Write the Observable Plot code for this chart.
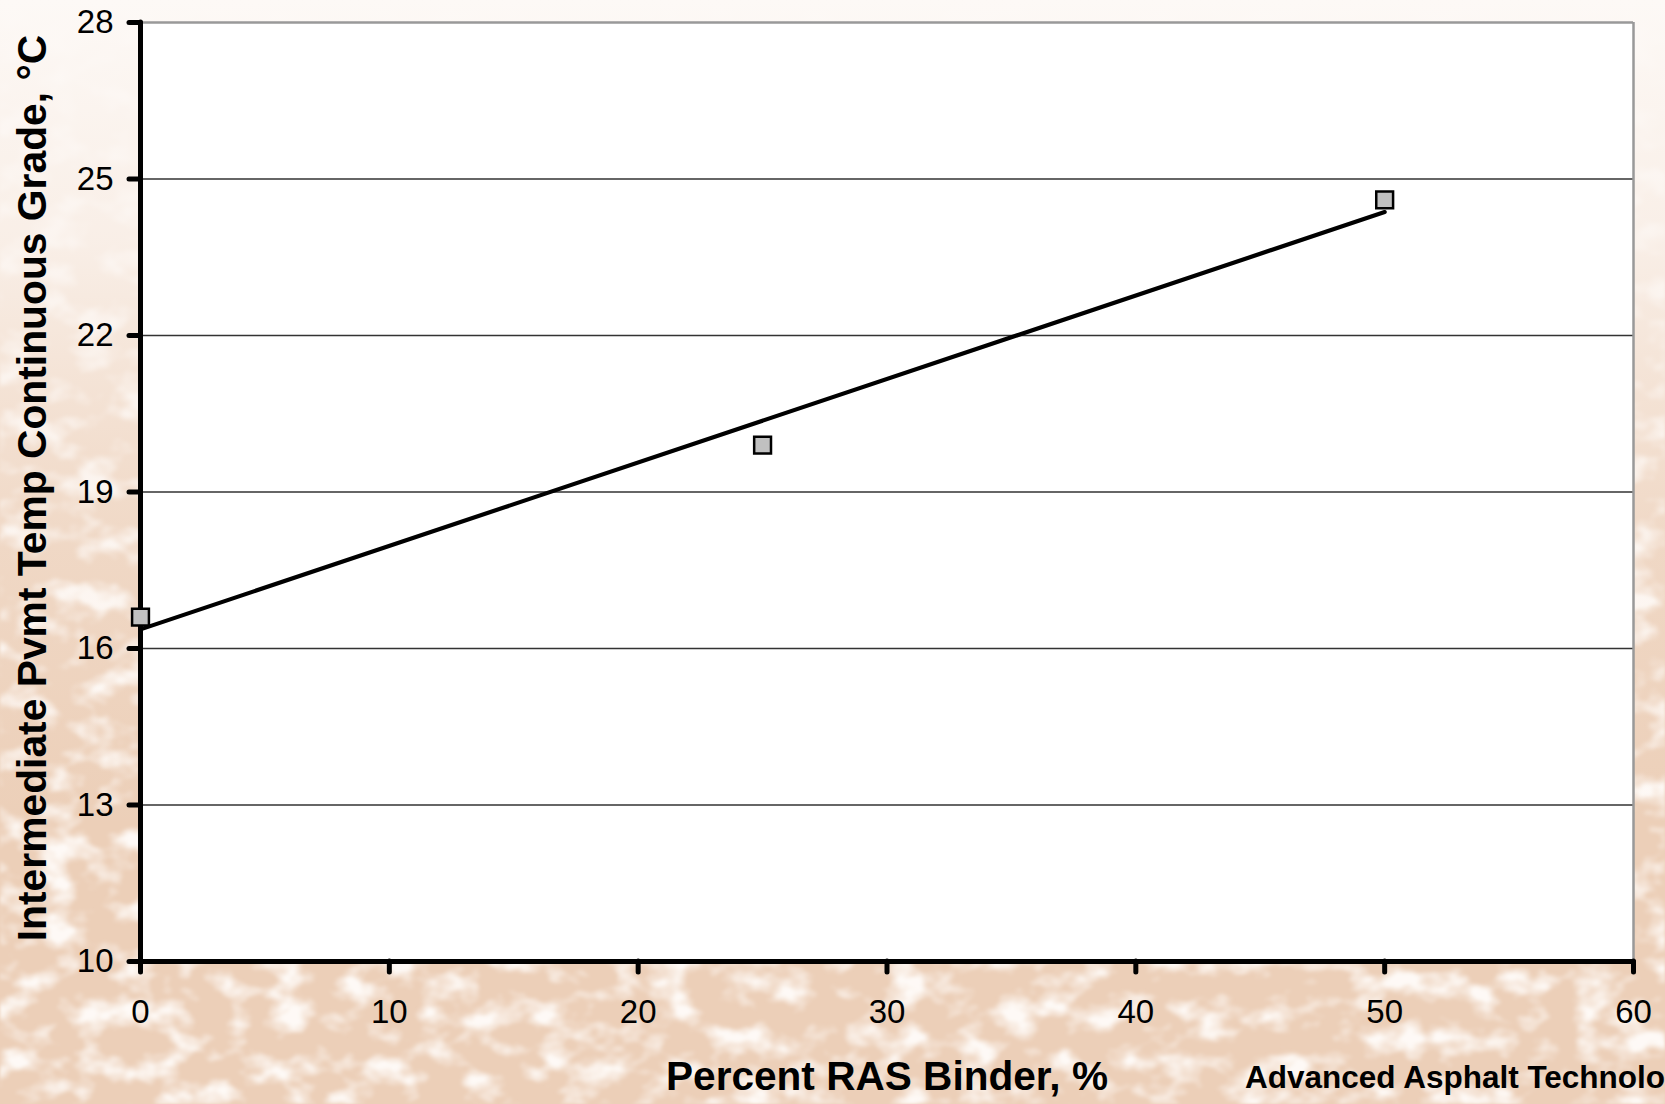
<!DOCTYPE html>
<html>
<head>
<meta charset="utf-8">
<script src="https://cdn.jsdelivr.net/npm/d3@7"></script>
<script src="https://cdn.jsdelivr.net/npm/@observablehq/plot@0.6"></script>
<style>
  html, body { margin: 0; padding: 0; }
  body { width: 1665px; height: 1104px; overflow: hidden; }
  #wrap { position: relative; width: 1665px; height: 1104px; overflow: hidden; font-family: "Liberation Sans", Arial, sans-serif; }
  #bg { position: absolute; left: 0; top: 0; }
  #chart { position: absolute; left: 0; top: 0; }
  .ttl { position: absolute; font-weight: bold; color: #000; white-space: nowrap; }
  #ytitle { left: -468px; top: 468px; width: 1000px; height: 40px; line-height: 40px; font-size: 40.8px; text-align: center; transform: rotate(-90deg); transform-origin: 50% 50%; }
  #xtitle { left: 387px; top: 1056px; width: 1000px; height: 40px; line-height: 40px; font-size: 40.6px; text-align: center; }
  #credit { left: 1245px; top: 1061px; height: 32px; line-height: 32px; font-size: 31.5px; }
</style>
</head>
<body>
<div id="wrap">
  <svg id="bg" width="1665" height="1104">
    <defs>
      <filter id="tex" x="0" y="0" width="100%" height="100%">
        <feTurbulence type="fractalNoise" baseFrequency="0.026 0.036" numOctaves="3" seed="11"/>
        <feColorMatrix type="matrix" values="0 0 0 0 0.99  0 0 0 0 0.95  0 0 0 0 0.92  3.2 0 0 0 -1.45"/>
        <feGaussianBlur stdDeviation="1.5"/>
      </filter>
      <linearGradient id="fade" x1="0" y1="0" x2="0" y2="1">
        <stop offset="0" stop-color="#fdf9f6" stop-opacity="1"/>
        <stop offset="0.22" stop-color="#fbf4ef" stop-opacity="0.85"/>
        <stop offset="0.5" stop-color="#f8ece3" stop-opacity="0.3"/>
        <stop offset="0.75" stop-color="#f8ece3" stop-opacity="0"/>
      </linearGradient>
    </defs>
    <rect width="1665" height="1104" fill="#eccfb8"/>
    <rect width="1665" height="1104" filter="url(#tex)"/>
    <rect width="1665" height="1104" fill="url(#fade)"/>
  </svg>
  <div id="chart"></div>
  <div class="ttl" id="ytitle">Intermediate Pvmt Temp Continuous Grade, °C</div>
  <div class="ttl" id="xtitle">Percent RAS Binder, %</div>
  <div class="ttl" id="credit">Advanced Asphalt Technologies</div>
</div>
<script>
// Data
const rasPercent = [0, 25, 50];
const tempGrade = [16.6, 19.9, 24.6];
const xTicks = [0, 10, 20, 30, 40, 50, 60];
const yTicks = [10, 13, 16, 19, 22, 25, 28];
const yGridDark = [13, 16, 19, 22, 25];

const data = rasPercent.map((x, i) => ({x, y: tempGrade[i]}));

const chart = Plot.plot({
  width: 1665,
  height: 1104,
  marginLeft: 140,
  marginRight: 32,
  marginTop: 22,
  marginBottom: 143,
  style: { background: "transparent", fontFamily: "'Liberation Sans', Arial, sans-serif", color: "#000" },
  x: { domain: [0, 60], ticks: xTicks },
  y: { domain: [10, 28], ticks: yTicks },
  marks: [
    Plot.frame({ fill: "white", stroke: null }),
    Plot.ruleY(yGridDark, { stroke: "#333", strokeWidth: 1.4 }),
    Plot.ruleY([28], { stroke: "#999", strokeWidth: 2.5 }),
    Plot.ruleX([60], { stroke: "#999", strokeWidth: 2.5 }),
    Plot.axisY({ ticks: yTicks, tickSize: 11, tickPadding: 16, strokeWidth: 5, strokeLinecap: "round", fontSize: 33, label: null, color: "#000" }),
    Plot.axisX({ ticks: xTicks, tickSize: 11, tickPadding: 27, strokeWidth: 5, strokeLinecap: "round", fontSize: 33, label: null, color: "#000" }),
    Plot.ruleX([0], { stroke: "#000", strokeWidth: 5, strokeLinecap: "round" }),
    Plot.ruleY([10], { stroke: "#000", strokeWidth: 5, strokeLinecap: "round" }),
    Plot.linearRegressionY(data, { x: "x", y: "y", ci: 0, stroke: "#000", strokeWidth: 4.2 }),
    Plot.dot(data, { x: "x", y: "y", symbol: "square", r: 9.5, fill: "#c0c0c0", stroke: "#000", strokeWidth: 2.5 })
  ]
});
document.getElementById("chart").appendChild(chart);
</script>
</body>
</html>
